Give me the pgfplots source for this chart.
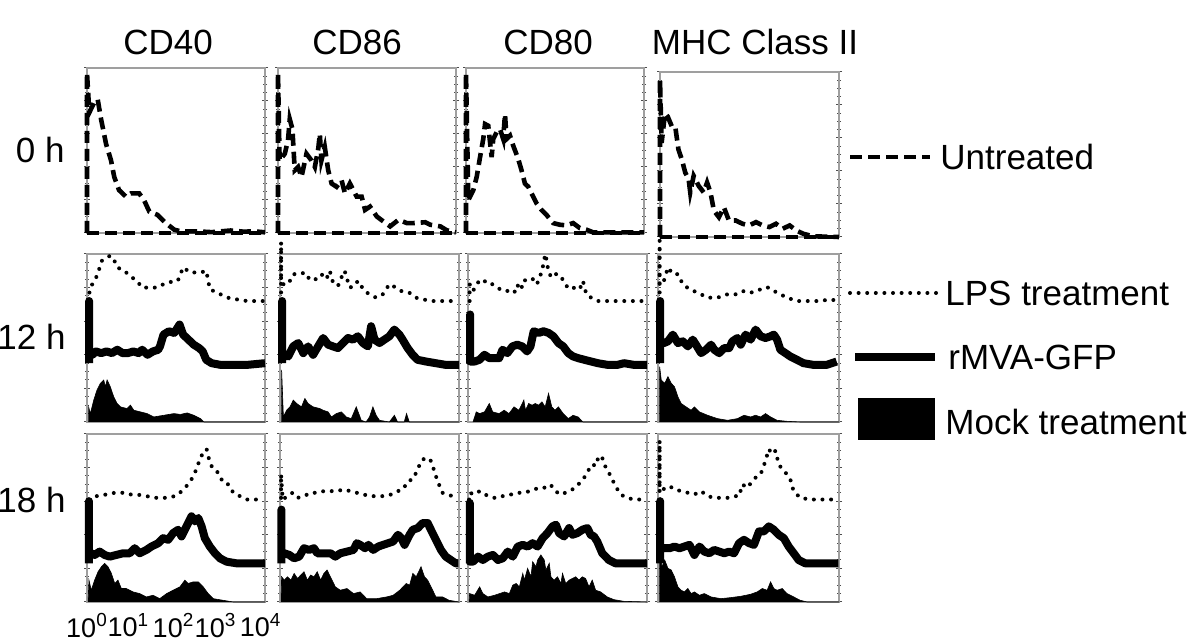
\documentclass[border=0pt]{standalone}
\usepackage{pgfplots}
\pgfplotsset{compat=1.18}
\usepackage{fontspec}
\setmainfont{Liberation Sans}
\newcommand{\bigfont}{\fontsize{17.5}{21}\selectfont}
\tikzset{
  untreated/.style={black, line width=2.3pt, dash pattern=on 6pt off 3pt},
  lps/.style={black, line width=2pt, dash pattern=on 0pt off 4.3pt, line cap=round, line join=round},
  rmva/.style={black, line width=4pt, line join=round},
  mock/.style={black, fill=black, line width=0.3pt},
}
\pgfplotsset{
  panel/.style={scale only axis, xmin=0, xmax=100, ymin=0, ymax=100,
    xtick=\empty, ytick={0,20,...,100}, minor y tick num=3, yticklabels={},
    tick align=center, major tick length=3pt, minor tick length=2pt,
    axis line style={gray!75, line width=0.6pt},
    every tick/.style={gray!60!black, line width=0.5pt},
    clip=false, anchor=north west},
}
\begin{document}
\begin{tikzpicture}
\useasboundingbox (0,0) rectangle (600pt,320pt);
% ---------------- Row 1 : 0 h ----------------
\begin{axis}[panel, at={(43.5pt,286pt)}, width=89pt, height=82.5pt]
\addplot[untreated] coordinates {(0,0)(100,0)};
\addplot[untreated] coordinates {(0,0)(0,97)(1.3,73)(4,79)(6,81)(7.9,69)(10.7,54)(13.5,44)(15.3,34)(18,26)(21.9,22)(24.7,24)(29.3,24)(32,20)(35,13)(39.6,11)(44.3,6)(49,2)(52.7,1)(62,1)(70,0.5)(80.7,1.5)(88,0.8)(94,1)(100,0.4)};
\end{axis}
\begin{axis}[panel, at={(139pt,286pt)}, width=89pt, height=82.5pt]
\addplot[untreated] coordinates {(0,0)(100,0)};
\addplot[untreated] coordinates {(0,0)(0,97)(0.9,44)(3.8,48)(5.6,56)(6.6,69)(8.1,63)(9.4,38)(11.3,40)(13.2,34)(16,48)(18.8,44)(20.7,40)(22.6,51)(23.5,60)(24.4,44)(26.3,52)(28.2,38)(30.1,30)(32.9,28)(35.7,32)(37.6,24)(40.4,30)(44.2,22)(47,22)(48.9,14)(51.7,16)(55.5,10)(59.2,7)(63,4)(67.7,8)(72.4,6)(76.1,6)(82.7,6.5)(85.5,5)(91.2,4)(94.9,1.6)(100,0.4)};
\end{axis}
\begin{axis}[panel, at={(233pt,286pt)}, width=89pt, height=82.5pt]
\addplot[untreated] coordinates {(0,0)(100,0)};
\addplot[untreated] coordinates {(0,0)(0,97)(1.3,20)(4.1,26)(6,34)(7.9,46)(9.7,57)(10.7,66)(12.5,65)(14.4,46)(15.3,57)(17.2,61)(19.1,63)(20.9,57)(21.9,72)(22.8,57)(24.7,59)(26.5,53)(29.3,45)(31.2,38)(33.1,30)(35,28)(36.8,24)(39.6,18)(42.4,14)(45.2,11)(49,6)(52.7,5)(56.4,4.6)(60.2,6)(63.9,3)(67.7,2)(71.4,0.4)(100,0.4)};
\end{axis}
\begin{axis}[panel, at={(330pt,284pt)}, width=89.5pt, height=82.5pt]
\addplot[untreated] coordinates {(0,0)(100,0)};
\addplot[untreated] coordinates {(0,0)(0,95)(0.9,57)(2.8,75)(4.3,73)(6.6,67)(8.5,67)(10.3,53)(12.2,47)(14.1,39)(16,35)(16.9,27)(18.8,37)(21.6,31)(24.4,27)(26.3,33)(28.2,27)(30.1,16)(32.9,12)(35.7,18)(38.5,10)(42.3,10)(46.1,8)(49.8,7)(53.6,9)(57.3,7)(61.1,6)(64.8,8)(68.6,5)(72.4,7)(76.1,4)(79.9,2)(85.5,0.4)(100,0)};
\end{axis}
% ---------------- Row 2 : 12 h ----------------
\begin{axis}[panel, at={(43.5pt,193pt)}, width=89pt, height=84pt]
\addplot[mock] coordinates {(0.9,0)(0.9,9)(1.9,5)(3.8,13)(5.6,19)(7.5,23)(9.4,25)(10.3,21)(11.3,25)(13.1,21)(15,15)(16.9,11)(18.8,9)(22.5,8)(24.4,10)(26.3,7)(30,6)(33.8,5)(37.5,3)(43.2,4)(48.8,5)(52.5,4.5)(56.3,5.4)(60,4)(63.8,2)(65.7,0)(100,0)};
\addplot[rmva] coordinates {(1.2,35)(1.2,72)(1.2,41)(3,40)(5,42)(8,41)(11,42)(14,41)(17,43)(20,41)(23,41)(26,42)(29,41)(31,43)(34,40)(37,42)(40,43)(41,45)(43,52)(46,54)(49,53)(52,58)(54,52)(57,49)(60,46)(63,44)(65,42)(67,37)(70,35)(75,34)(80,34)(90,34)(100,35)};
\addplot[lps] coordinates {(0.5,72)(1.9,80)(5.6,87)(8.4,96)(13,99)(15,97)(17,92)(21,90)(24,87)(28,84)(31,80)(36,80)(39,80)(45,83)(51,84)(54,92)(58,89)(64,89)(67,90)(69,79)(75,76)(79,74)(84,73)(90,72)(100,72)};
\end{axis}
\begin{axis}[panel, at={(140pt,193pt)}, width=89.5pt, height=84pt]
\addplot[mock] coordinates {(0.9,0)(0.9,31)(1.9,3)(3.7,7)(5.6,9)(7.4,13)(9.3,11)(12,9)(13.9,14)(15.7,11)(18.5,9)(22.2,8)(24.1,7)(26.9,6)(28.7,3)(31.5,5)(34.3,6)(37,3)(39.8,2)(42.6,9)(45.4,1)(48.1,0)(50,3)(51.9,9)(53.7,4)(55.6,1)(61.1,0)(63.9,4)(65.7,0)(69.4,0)(70.7,5)(72.2,0)(100,0)};
\addplot[rmva] coordinates {(1.2,35)(1.2,72)(1.2,40)(2.8,40)(4.6,39)(7.4,45)(10.2,47)(13,41)(15.7,45)(18.5,40)(21.3,45)(24.1,50)(26.9,46)(29.6,45)(32.4,44)(35.2,47)(38,50)(40.7,49)(43.5,51)(46.3,47)(49.1,45)(50.9,57)(52.8,49)(55.6,47)(58.3,49)(61.1,51)(63.9,55)(66.7,52)(68.5,49)(71.3,44)(74.1,40)(76.9,37)(81.5,36)(87,35)(92.6,34)(100,34)};
\addplot[lps] coordinates {(0.6,72)(0.6,107)(0.6,82)(1.9,82)(4.6,82)(7.4,88)(11.1,88)(13.9,89)(15.7,86)(18.5,84)(21.3,86)(23.1,88)(25.9,85)(27.8,90)(29.6,83)(32.4,81)(34.3,86)(36.1,90)(38.9,80)(41.7,81)(43.5,84)(47.2,78)(50,76)(53.7,74)(57.4,76)(61.1,82)(64.8,80)(67.6,78)(72.2,77)(75.9,74)(79.6,73)(85.2,72)(90.7,72)(97.2,72)};
\end{axis}
\begin{axis}[panel, at={(234pt,193pt)}, width=89.5pt, height=84pt]
\addplot[mock] coordinates {(2.8,0)(4.6,6)(6.4,5)(9.2,6)(11.9,11)(13.8,6)(17.4,5)(20.2,7)(22.9,5)(25.7,9)(28.4,7)(30.3,11)(31.2,13)(32.1,7)(33.9,11)(35.8,10)(37.6,11)(39.4,10)(41.3,12)(43.1,9)(45,17)(46.8,9)(48.6,7)(50.5,9)(53.2,5)(56,2)(58.7,4)(61.5,3)(64.2,0)(100,0)};
\addplot[rmva] coordinates {(1.2,35)(1.2,64)(1.2,36)(3.7,36)(6.4,37)(9.2,40)(11.9,38)(14.7,38)(17.4,38)(19.3,43)(22,41)(24.8,45)(27.5,46)(30.3,45)(33,42)(34.9,45)(36.7,54)(39.4,53)(42.2,54)(45,53)(47.7,51)(50.5,47)(53.2,45)(56,41)(58.7,39)(61.5,38)(65.1,37)(68.8,36)(72.5,35)(78,34)(83.5,34)(87.2,35)(92.7,34)(100,34)};
\addplot[lps] coordinates {(0.9,72)(0.9,82)(2.8,78)(5.5,83)(8.3,85)(11,82)(13.8,82)(16.5,80)(19.3,78)(22,78)(24.8,79)(26.6,77)(28.4,83)(30.3,80)(32.1,85)(34.9,85)(36.7,85)(38.5,82)(40.4,87)(42.2,94)(43.1,100)(44,96)(45,89)(46.8,86)(48.6,88)(50.5,88)(52.3,86)(54.1,82)(56.9,79)(59.6,80)(62.4,79)(64.2,84)(66.1,76)(68.8,74)(72.5,72)(78,72)(83.5,72)(90.8,72)(99.1,72)};
\end{axis}
\begin{axis}[panel, at={(329pt,193pt)}, width=90.5pt, height=84pt]
\addplot[mock] coordinates {(0.9,0)(0.9,33)(1.8,25)(3.7,23)(5.5,27)(7.3,23)(9.1,21)(11,15)(12.8,11)(15.5,9)(18.3,7)(20.1,9)(22.9,6)(27.4,4)(32.9,2)(38.4,1)(43.9,2)(47.5,4)(51.2,3)(53.9,4)(56.7,3)(59.4,5)(62.2,3)(65.8,1)(71.3,0.4)(78.6,0)(100,0)};
\addplot[rmva] coordinates {(1.2,35)(1.2,72)(1.2,47)(3.3,47)(5.5,48)(8.2,52)(11,47)(13.7,48)(16.5,45)(19.2,49)(21,46)(23.8,41)(26.5,43)(29.3,46)(31.1,43)(33.8,41)(36.6,44)(39.3,44)(41.1,48)(43.9,50)(45.7,46)(48.4,52)(51.2,49)(53.9,55)(56.7,51)(59.4,50)(62.2,51)(64,52)(65.8,49)(67.6,43)(70.4,41)(73.1,39)(76.8,37)(80.4,35)(85.9,34)(93.2,34)(98.7,36)};
\addplot[lps] coordinates {(0.9,72)(0.9,108)(0.9,82)(2.7,82)(5.5,92)(8.2,88)(11,88)(13.7,82)(17.4,79)(21.9,77)(27.4,74)(32.9,74)(38.4,76)(43.9,76)(47.5,78)(51.2,77)(54.8,78)(58.5,80)(61.2,80)(64,78)(67.6,76)(71.3,74)(76.8,72)(82.3,72)(89.6,72)(95.1,73)(99.6,72)};
\end{axis}
% ---------------- Row 3 : 18 h ----------------
\begin{axis}[panel, at={(43.5pt,103pt)}, width=89pt, height=84pt,
  xtick={0,23.3,48.6,72.2,97.5},
  xticklabels={10\textsuperscript{0},10\textsuperscript{1},10\textsuperscript{2},10\textsuperscript{3},10\textsuperscript{4}},
  xtick style={draw=none},
  xticklabel style={font=\fontsize{13.5}{16}\selectfont, inner sep=0pt, anchor=north, yshift=-4pt}]
\addplot[mock] coordinates {(0.6,0)(1.1,13)(2.4,7)(4.3,13)(6.2,18)(8.1,21)(9.9,23)(11.8,21)(13.7,17)(15.6,11)(17.4,13)(19.3,8)(22.1,8)(25.9,6)(29.6,5)(33.4,3)(37.1,4)(40.9,2)(44.7,5)(48.4,7)(52.2,9)(55,13)(56.8,11)(59.7,12)(62.5,12)(65.3,9)(68.1,5)(70.9,2)(76.5,1)(82.2,0)(100,0)};
\addplot[rmva] coordinates {(1.1,23)(1.1,60)(1.1,29)(2.4,29)(4.3,28)(7.1,30)(9.9,28)(12.8,27)(16.5,28)(20.3,29)(24,29)(26.8,32)(29.6,29)(33.4,31)(36.2,33)(40,35)(42.8,38)(45.6,37)(48.4,41)(51.2,43)(53.1,39)(55.9,45)(58.7,51)(60.6,48)(62.5,50)(64.4,45)(66.2,38)(69,33)(71.9,29)(74.7,26)(78.4,24)(84.1,23)(89.7,23)(100,23)};
\addplot[lps] coordinates {(1.1,61)(5.3,63)(10.9,64)(15.6,65)(20.3,65)(24,64)(27.8,64)(33.4,63)(39,62)(44.7,62)(49.3,63)(52.2,65)(55.9,69)(58.7,73)(61.5,79)(63.4,85)(65.3,89)(67.2,91)(69,83)(70.9,79)(73.7,77)(76.5,71)(79.4,70)(82.2,65)(85.9,63)(89.7,61)(93.4,61)(98.1,61)};
\end{axis}
\begin{axis}[panel, at={(140pt,103pt)}, width=89.5pt, height=84pt]
\addplot[mock] coordinates {(0.6,0)(0.9,15)(2.4,13)(4.2,15)(6.1,13)(7.9,17)(9.8,14)(11.6,16)(13.4,18)(15.3,13)(17.1,16)(19,15)(20.8,18)(22.7,13)(24.5,17)(26.3,19)(29.1,13)(30.9,9)(33.7,7)(37.4,8)(41.1,5)(44.8,6)(48.4,2)(54,2)(59.5,3)(63.2,4)(66.9,7)(70.5,11)(72.4,10)(74.2,17)(76.1,15)(78.8,21)(80.7,15)(82.5,13)(85.3,7)(87.1,3)(90.8,3)(94.5,1)(100,0)};
\addplot[rmva] coordinates {(0.8,23)(0.8,55)(0.8,29)(2.4,29)(5.2,28)(7.9,26)(10.7,27)(13.4,32)(16.2,31)(19,32)(20.8,29)(24.5,29)(28.2,29)(30.9,27)(33.7,29)(37.4,30)(41.1,31)(42.9,35)(44.8,34)(47.5,32)(49.4,34)(52.1,31)(54.9,33)(57.6,34)(60.4,35)(63.2,36)(65.9,40)(67.8,38)(69.6,34)(72.4,40)(74.2,43)(77,44)(79.7,47)(82.5,47)(84.3,43)(87.1,37)(89.9,31)(92.6,27)(95.4,25)(98.2,23)(99.6,23)};
\addplot[lps] coordinates {(0.6,62)(0.6,76)(1.5,61)(4.2,63)(7,65)(9.8,62)(13.4,63)(17.1,65)(20.8,65)(24.5,66)(28.2,66)(31.9,66)(35.5,67)(39.2,66)(42.9,65)(46.6,64)(50.3,63)(54,63)(57.6,63)(62.2,64)(65.9,66)(68.7,67)(71.5,72)(74.2,73)(77,79)(78.8,84)(81.6,86)(84.3,84)(86.2,78)(88,72)(90.8,65)(93.6,64)(96.3,63)(99.1,61)};
\end{axis}
\begin{axis}[panel, at={(234pt,103pt)}, width=89.5pt, height=84pt]
\addplot[mock] coordinates {(0.6,0)(0.9,5)(3.7,4)(6.5,9)(8.3,5)(11.1,3)(14.8,4)(17.6,5)(20.4,6)(23.1,5)(25,10)(26.9,11)(28.7,9)(30.6,17)(31.5,13)(33.3,20)(35.2,15)(36.1,24)(38,21)(38.9,25)(40.7,28)(42.6,25)(43.5,19)(45.4,23)(46.3,15)(48.1,13)(50,15)(51.9,11)(52.8,17)(54.6,11)(56.5,13)(58.3,14)(60.2,15)(62,13)(63.9,15)(65.7,14)(67.6,9)(69.4,13)(71.3,7)(74.1,6)(77.8,3)(81.5,1.4)(87,0.4)(100,0)};
\addplot[rmva] coordinates {(1,23)(1,59)(1,24)(2.8,24)(5.6,27)(8.3,25)(11.1,27)(13.9,28)(16.7,25)(19.4,26)(22.2,30)(25,27)(27.8,33)(30.6,34)(33.3,33)(36.1,35)(38.9,33)(41.7,38)(44.4,41)(47.2,45)(49.1,46)(50.9,41)(53.7,39)(56.5,44)(58.3,40)(61.1,41)(63.9,43)(66.7,44)(68.5,40)(70.4,39)(72.2,36)(75,29)(78.7,25)(82.4,23)(87,23)(92.6,23)(100,23)};
\addplot[lps] coordinates {(0.6,61)(0.9,65)(3.7,64)(6.5,66)(9.3,64)(12,63)(14.8,62)(17.6,63)(20.4,63)(24.1,64)(27.8,65)(31.5,65)(34.3,66)(37,67)(39.8,68)(42.6,68)(45.4,70)(48.1,68)(50,65)(52.8,64)(55.6,66)(58.3,67)(61.1,69)(63,72)(65.7,75)(67.6,79)(69.4,82)(71.3,81)(73.1,87)(75,86)(75.9,82)(77.8,79)(79.6,75)(82.4,69)(85.2,64)(88.9,62)(92.6,61)(96.3,61)};
\end{axis}
\begin{axis}[panel, at={(329pt,103pt)}, width=90.5pt, height=84pt]
\addplot[mock] coordinates {(0.9,0)(0.9,29)(2.2,21)(3.7,25)(5.5,20)(7.3,19)(9.1,15)(11,9)(12.8,7)(14.6,6)(16.5,8)(18.3,5)(20.1,6)(22.9,4)(25.6,5)(29.3,3)(34.7,2)(40.2,2.6)(45.7,3.4)(51.2,4.6)(54.8,6)(57.6,8)(60.3,7)(62.2,12)(64,8)(65.8,7)(68.6,8)(71.3,5)(75,3)(78.6,1)(82.3,0)(100,0)};
\addplot[rmva] coordinates {(1.2,23)(1.2,60)(1.2,32)(3.7,32)(6.4,32)(9.1,33)(11.9,32)(14.6,33)(17.4,34)(20.1,28)(22.9,33)(25.6,30)(28.3,29)(31.1,31)(33.8,30)(36.6,29)(39.3,30)(42,29)(44.8,35)(47.5,37)(50.3,35)(53,34)(55.8,42)(58.5,42)(61.2,45)(64,43)(66.7,40)(69.5,38)(72.2,33)(75,29)(77.7,25)(81.4,23)(87.8,23)(93.2,23)(99.6,23)};
\addplot[lps] coordinates {(0.9,61)(0.9,96)(0.9,67)(2.7,67)(6.4,69)(9.1,67)(12.8,66)(16.5,65)(20.1,64)(23.8,66)(27.4,63)(31.1,62)(34.7,62)(38.4,62)(42,63)(44.8,63)(46.6,70)(49.4,68)(52.1,72)(53.9,74)(56.7,76)(59.4,84)(61.2,91)(63.1,88)(64.9,90)(66.7,82)(68.6,79)(71.3,76)(73.1,73)(74.9,66)(78.6,62)(84.1,61)(90.5,61)(97.8,61)};
\end{axis}
% ---------------- labels ----------------
\node[anchor=base, font=\bigfont] at (84pt,292.5pt) {CD40};
\node[anchor=base, font=\bigfont] at (178.5pt,292.5pt) {CD86};
\node[anchor=base, font=\bigfont] at (274pt,292.5pt) {CD80};
\node[anchor=base, font=\bigfont] at (377.5pt,292.5pt) {MHC Class II};
\node[anchor=base east, font=\bigfont, inner sep=0pt] at (32.5pt,238.5pt) {0 h};
\node[anchor=base east, font=\bigfont, inner sep=0pt] at (33pt,145pt) {12 h};
\node[anchor=base east, font=\bigfont, inner sep=0pt] at (33pt,63.5pt) {18 h};
% ---------------- legend ----------------
\draw[untreated] (425pt,241.5pt) -- (465pt,241.5pt);
\node[anchor=base west, font=\bigfont, inner sep=0pt] at (470pt,235pt) {Untreated};
\draw[lps] (425pt,173.5pt) -- (469pt,173.5pt);
\node[anchor=base west, font=\bigfont, inner sep=0pt] at (472.5pt,167pt) {LPS treatment};
\draw[black, line width=4pt] (427.5pt,141.5pt) -- (467.5pt,141.5pt);
\node[anchor=base west, font=\bigfont, inner sep=0pt] at (474pt,135pt) {rMVA-GFP};
\fill[black] (429pt,100pt) rectangle (467.5pt,121pt);
\node[anchor=base west, font=\bigfont, inner sep=0pt] at (472.5pt,102.5pt) {Mock treatment};
\end{tikzpicture}
\end{document}
